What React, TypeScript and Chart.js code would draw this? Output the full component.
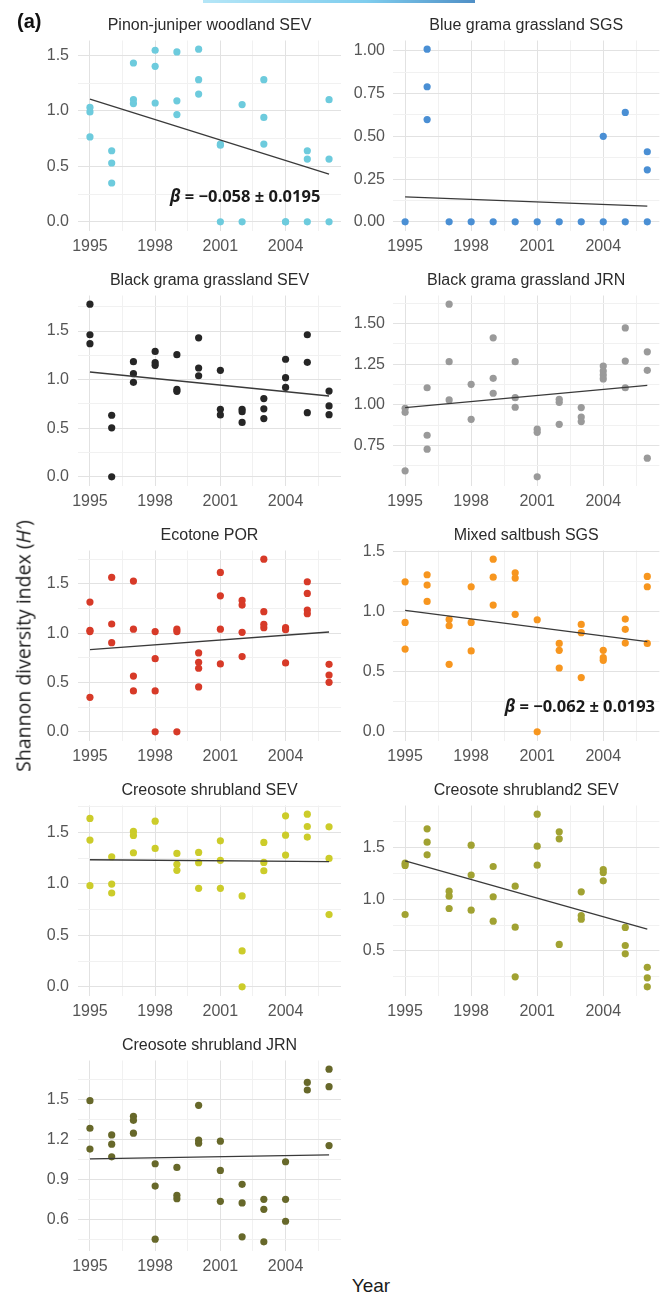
import React, { useEffect, useRef } from 'react';
import { Chart, registerables } from 'chart.js';

Chart.register(...registerables);

const FONT = '"Liberation Sans", Arial, Helvetica, sans-serif';
const NOTE_FONT = '"Open Sans", "Liberation Sans", sans-serif';

// ---- data ----
const years = [1995, 1996, 1997, 1998, 1999, 2000, 2001, 2002, 2003, 2004, 2005, 2006];
const xMajorTicks = [1995, 1998, 2001, 2004];
const xMinorTicks = [1996.5, 1999.5, 2002.5, 2005.5];
const xLimits = [1994.45, 2006.55];

const pinonJuniperSEV = [
  [1.03, 0.99, 0.765], [0.64, 0.53, 0.35], [1.43, 1.1, 1.065], [1.545, 1.4, 1.07],
  [1.53, 1.09, 0.966], [1.555, 1.28, 1.15], [0.7, 0.69, 0], [1.056, 0],
  [1.28, 0.94, 0.7], [0, 0], [0.64, 0.565, 0], [1.1, 0.565, 0],
];
const blueGramaSGS = [
  [0], [1.01, 0.79, 0.598], [0], [0], [0], [0], [0], [0], [0], [0.5, 0], [0.64, 0], [0.41, 0.304, 0],
];
const blackGramaSEV = [
  [1.777, 1.462, 1.37], [0.634, 0.504, 0], [1.185, 1.062, 0.973], [1.29, 1.175, 1.147],
  [1.257, 0.9, 0.88], [1.43, 1.12, 1.04], [1.096, 0.695, 0.637], [0.695, 0.67, 0.56],
  [0.805, 0.7, 0.6], [1.21, 1.02, 0.92], [1.462, 1.178, 0.66], [0.883, 0.73, 0.64],
];
const blackGramaJRN = [
  [0.98, 0.955, 0.595], [1.106, 0.814, 0.728], [1.62, 1.266, 1.031], [1.127, 0.912],
  [1.413, 1.164, 1.072], [1.266, 1.045, 0.986], [0.851, 0.832, 0.558], [1.035, 1.016, 0.881],
  [0.984, 0.926, 0.898], [1.239, 1.209, 1.184, 1.16], [1.474, 1.27, 1.106], [1.327, 1.213, 0.673],
];
const ecotonePOR = [
  [1.314, 1.028, 1.015, 0.35], [1.564, 1.092, 0.903], [1.527, 1.04, 0.565, 0.415], [1.015, 0.741, 0.415, 0],
  [1.04, 1.015, 0], [0.799, 0.704, 0.644, 0.455], [1.614, 1.378, 1.04, 0.688], [1.331, 1.284, 1.008, 0.762],
  [1.749, 1.217, 1.089, 1.055], [1.055, 1.035, 0.698], [1.52, 1.402, 1.234, 1.196], [0.684, 0.576, 0.502],
];
const mixedSaltbushSGS = [
  [1.25, 0.912, 0.69], [1.309, 1.223, 1.087], [0.937, 0.884, 0.563], [1.209, 0.912, 0.674],
  [1.439, 1.289, 1.056], [1.325, 1.281, 0.979], [0.934, 0], [0.737, 0.679, 0.532],
  [0.895, 0.826, 0.452], [0.679, 0.618, 0.596], [0.94, 0.854, 0.74], [1.295, 1.209, 0.737],
];
const creosoteSEV = [
  [1.636, 1.426, 0.983], [1.264, 0.999, 0.912], [1.51, 1.471, 1.303], [1.61, 1.345],
  [1.296, 1.19, 1.132], [1.306, 1.206, 0.957], [1.419, 1.229, 0.957], [0.883, 0.349, 0],
  [1.403, 1.209, 1.128], [1.662, 1.474, 1.28], [1.678, 1.558, 1.455], [1.555, 1.248, 0.702],
];
const creosote2SEV = [
  [1.347, 1.325, 0.852], [1.678, 1.55, 1.428], [1.077, 1.029, 0.91], [1.521, 1.232, 0.894],
  [1.315, 1.023, 0.788], [1.125, 0.73, 0.251], [1.82, 1.511, 1.328], [1.65, 1.582, 0.563],
  [1.071, 0.842, 0.807], [1.286, 1.257, 1.177], [0.727, 0.553, 0.473], [0.342, 0.241, 0.154],
];
const creosoteJRN = [
  [1.493, 1.285, 1.128], [1.235, 1.165, 1.07], [1.375, 1.345, 1.248], [1.018, 0.85, 0.45],
  [0.99, 0.78, 0.755], [1.458, 1.195, 1.173], [1.188, 0.968, 0.735], [0.863, 0.723, 0.468],
  [0.75, 0.675, 0.43], [1.033, 0.75, 0.585], [1.63, 1.573], [1.73, 1.598, 1.155],
];

// fitted trend values at 1995 and 2006
const trendPinon = [1.104, 0.43];
const trendBlueGrama = [0.146, 0.092];
const trendBlackSEV = [1.079, 0.832];
const trendBlackJRN = [0.984, 1.121];
const trendEcotone = [0.832, 1.011];
const trendSaltbush = [1.012, 0.751];
const trendCreosoteSEV = [1.235, 1.216];
const trendCreosote2 = [1.37, 0.711];
const trendCreosoteJRN = [1.055, 1.085];

const ticksHalf = [0, 0.5, 1, 1.5];
const ticksQuarter = [0, 0.25, 0.5, 0.75, 1];
const ticksJRN = [0.75, 1, 1.25, 1.5];
const ticksCreosote2 = [0.5, 1, 1.5];
const ticksCreosoteJRN = [0.6, 0.9, 1.2, 1.5];

type Note = { x: number; y: number; text: string };
type PanelDef = {
  title: string; color: string; values: number[][]; trend: number[];
  yTicks: number[]; decimals: number; note?: Note;
};

const panels: PanelDef[] = [
  { title: 'Pinon-juniper woodland SEV', color: '#6dcbdd', values: pinonJuniperSEV, trend: trendPinon, yTicks: ticksHalf, decimals: 1,
    note: { x: 2005.6, y: 0.22, text: ' = \u22120.058 \u00b1 0.0195' } },
  { title: 'Blue grama grassland SGS', color: '#4a8fd4', values: blueGramaSGS, trend: trendBlueGrama, yTicks: ticksQuarter, decimals: 2 },
  { title: 'Black grama grassland SEV', color: '#262626', values: blackGramaSEV, trend: trendBlackSEV, yTicks: ticksHalf, decimals: 1 },
  { title: 'Black grama grassland JRN', color: '#9a9a9a', values: blackGramaJRN, trend: trendBlackJRN, yTicks: ticksJRN, decimals: 2 },
  { title: 'Ecotone POR', color: '#d73a28', values: ecotonePOR, trend: trendEcotone, yTicks: ticksHalf, decimals: 1 },
  { title: 'Mixed saltbush SGS', color: '#f7961f', values: mixedSaltbushSGS, trend: trendSaltbush, yTicks: ticksHalf, decimals: 1,
    note: { x: 2006.35, y: 0.205, text: ' = \u22120.062 \u00b1 0.0193' } },
  { title: 'Creosote shrubland SEV', color: '#cccc2a', values: creosoteSEV, trend: trendCreosoteSEV, yTicks: ticksHalf, decimals: 1 },
  { title: 'Creosote shrubland2 SEV', color: '#a1a232', values: creosote2SEV, trend: trendCreosote2, yTicks: ticksCreosote2, decimals: 1 },
  { title: 'Creosote shrubland JRN', color: '#67682a', values: creosoteJRN, trend: trendCreosoteJRN, yTicks: ticksCreosoteJRN, decimals: 1 },
];

const ROW_H = 255;
const MAJOR_GRID = '#e2e2e2';
const MINOR_GRID = '#f1f1f1';
const TICK_COLOR = '#555555';

function Panel({ def, index }: { def: PanelDef; index: number }) {
  const ref = useRef<HTMLCanvasElement>(null);
  const col = index % 2;
  const row = Math.floor(index / 2);
  const left = col === 0 ? 0 : 345;
  const width = col === 0 ? 345 : 324;
  const yAxisW = col === 0 ? 78 : 48;
  const padRight = col === 0 ? 2 : 9.6;

  useEffect(() => {
    const pts: { x: number; y: number }[] = [];
    def.values.forEach((arr, i) => arr.forEach((v) => pts.push({ x: years[i], y: v })));
    const vals = pts.map((p) => p.y);
    const lo = Math.min(...vals);
    const hi = Math.max(...vals);
    const ext = (hi - lo) * 0.05;
    const yMin = lo - ext;
    const yMax = hi + ext;
    const step = def.yTicks[1] - def.yTicks[0];
    const yMinor: number[] = [];
    for (let k = -1; k < def.yTicks.length; k++) {
      const m = def.yTicks[0] + step * (k + 0.5);
      if (m > yMin && m < yMax) yMinor.push(m);
    }
    const isMajorY = (v: number) => def.yTicks.some((t) => Math.abs(t - v) < 1e-9);
    const isMajorX = (v: number) => xMajorTicks.some((t) => Math.abs(t - v) < 1e-9);

    const deco = {
      id: 'deco',
      afterDraw(chart: any) {
        const ctx = chart.ctx;
        const ca = chart.chartArea;
        ctx.save();
        ctx.fillStyle = '#2b2b2b';
        ctx.font = `16px ${FONT}`;
        ctx.textAlign = 'center';
        ctx.textBaseline = 'middle';
        ctx.fillText(def.title, (ca.left + ca.right) / 2, 25.5);
        if (def.note) {
          const xs = chart.scales.x.getPixelForValue(def.note.x);
          const ys = chart.scales.y.getPixelForValue(def.note.y);
          ctx.fillStyle = '#1a1a1a';
          ctx.textAlign = 'right';
          ctx.font = `bold 16.5px ${NOTE_FONT}`;
          const w = ctx.measureText(def.note.text).width;
          ctx.fillText(def.note.text, xs, ys);
          ctx.font = `italic bold 17px ${NOTE_FONT}`;
          ctx.fillText('\u03b2', xs - w, ys);
        }
        ctx.restore();
      },
    };

    const chart = new Chart(ref.current as HTMLCanvasElement, {
      type: 'scatter',
      data: {
        datasets: [
          {
            type: 'line',
            data: [{ x: years[0], y: def.trend[0] }, { x: years[years.length - 1], y: def.trend[1] }],
            borderColor: '#3a3a3a',
            borderWidth: 1.3,
            pointRadius: 0,
            fill: false,
          } as any,
          {
            type: 'scatter',
            data: pts,
            backgroundColor: def.color,
            borderColor: def.color,
            borderWidth: 0,
            pointRadius: 3.6,
          } as any,
        ],
      },
      options: {
        animation: false,
        responsive: false,
        devicePixelRatio: 1,
        layout: { padding: { top: 40.5, right: padRight, bottom: 0, left: 0 } },
        plugins: { legend: { display: false }, tooltip: { enabled: false }, title: { display: false } },
        scales: {
          x: {
            type: 'linear',
            min: xLimits[0],
            max: xLimits[1],
            afterBuildTicks: (s: any) => {
              s.ticks = [...xMajorTicks, ...xMinorTicks].sort((a, b) => a - b).map((v) => ({ value: v }));
            },
            afterFit: (s: any) => { s.height = 24.5; },
            grid: {
              color: (c: any) => (c.tick && isMajorX(c.tick.value) ? MAJOR_GRID : MINOR_GRID),
              lineWidth: 1,
              drawTicks: false,
            },
            border: { display: false },
            ticks: {
              autoSkip: false,
              maxRotation: 0,
              padding: 6,
              color: TICK_COLOR,
              font: { family: FONT, size: 16 },
              callback: (v: any) => (isMajorX(Number(v)) ? String(Math.round(Number(v))) : ''),
            },
          },
          y: {
            type: 'linear',
            min: yMin,
            max: yMax,
            afterBuildTicks: (s: any) => {
              s.ticks = [...def.yTicks.filter((t) => t >= yMin && t <= yMax), ...yMinor]
                .sort((a, b) => a - b)
                .map((v) => ({ value: v }));
            },
            afterFit: (s: any) => { s.width = yAxisW; },
            grid: {
              color: (c: any) => (c.tick && isMajorY(c.tick.value) ? MAJOR_GRID : MINOR_GRID),
              lineWidth: 1,
              drawTicks: false,
            },
            border: { display: false },
            ticks: {
              autoSkip: false,
              padding: col === 0 ? 9 : 8,
              color: TICK_COLOR,
              font: { family: FONT, size: 16 },
              callback: (v: any) => (isMajorY(Number(v)) ? Number(v).toFixed(def.decimals) : ''),
            },
          },
        },
      },
      plugins: [deco],
    } as any);
    return () => chart.destroy();
  }, []);

  return (
    <canvas
      ref={ref}
      width={width}
      height={ROW_H}
      style={{ position: 'absolute', left, top: row * ROW_H, width, height: ROW_H }}
    />
  );
}

export default function App() {
  return (
    <div style={{ position: 'absolute', left: 0, top: 0, width: 669, height: 1296, background: '#ffffff', overflow: 'hidden' }}>
      {panels.map((p, i) => (
        <Panel key={p.title} def={p} index={i} />
      ))}
      <div style={{ position: 'absolute', left: 203, top: 0, width: 272, height: 3,
        background: 'linear-gradient(to right, #b5e6f7, #7fcdee 60%, #4f8fc6)' }} />
      <div style={{ position: 'absolute', left: 17, top: 10, font: `bold 20px ${FONT}`, color: '#111' }}>(a)</div>
      <div style={{ position: 'absolute', left: 23, top: 646, transform: 'translate(-50%, -50%) rotate(-90deg)',
        whiteSpace: 'nowrap', font: `19.5px ${NOTE_FONT}`, color: '#1a1a1a' }}>
        Shannon diversity index (<i>H′</i>)
      </div>
      <div style={{ position: 'absolute', left: 371, top: 1286, transform: 'translate(-50%, -50%)',
        whiteSpace: 'nowrap', font: `19px ${FONT}`, color: '#1a1a1a' }}>
        Year
      </div>
    </div>
  );
}
